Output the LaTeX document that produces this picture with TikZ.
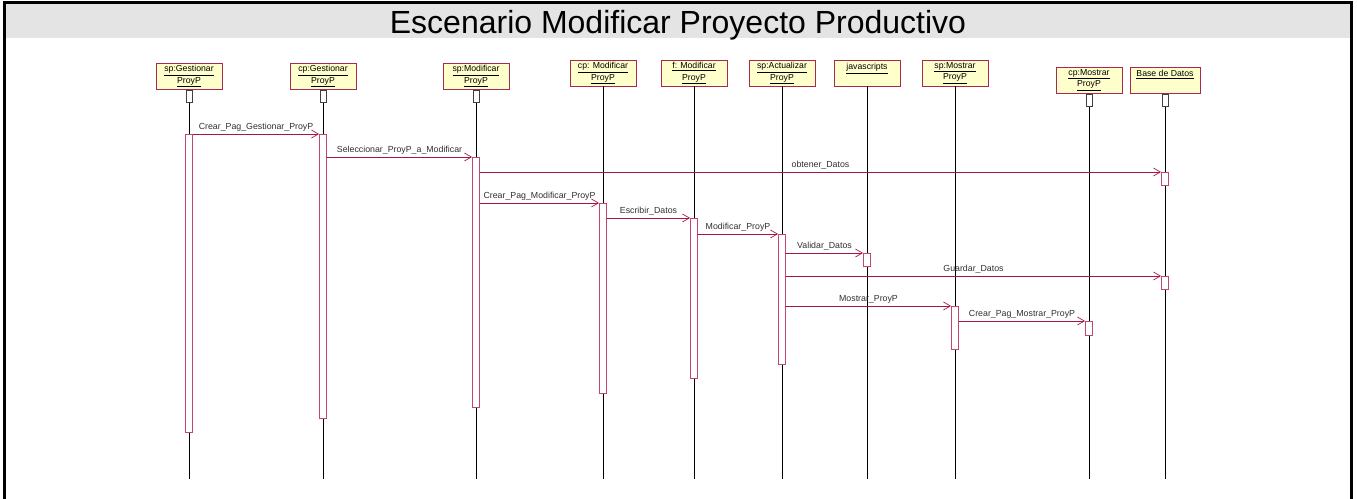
\documentclass[tikz,border=0pt]{standalone}
\usepackage{fontspec}
\setmainfont{Liberation Sans}
\usetikzlibrary{positioning,arrows.meta}
\definecolor{boxfill}{HTML}{FFFFCC}
\definecolor{boxline}{HTML}{A8284F}
\definecolor{msgline}{HTML}{A3154B}
\definecolor{actline}{HTML}{C2476E}
\definecolor{band}{HTML}{E4E4E4}
\definecolor{lbltext}{HTML}{303030}
\tikzset{
  obj/.style={draw=boxline,fill=boxfill,line width=0.8pt,minimum width=66,minimum height=26,inner sep=1pt,align=center,font=\fontsize{8.7}{11.5}\selectfont},
  head/.style={draw=black!75,fill=white,line width=0.6pt,minimum width=6,minimum height=12,inner sep=0pt},
  act/.style={draw=actline,fill=white,line width=0.8pt,minimum width=7,inner sep=0pt,anchor=north},
  life/.style={black,line width=0.6pt},
  msg/.style={msgline,line width=0.7pt,-{Straight Barb[length=7pt,width=8pt]}},
  lbl/.style={above,inner sep=2pt,text=lbltext,font=\fontsize{8.8}{10}\selectfont}
}
\begin{document}
\begin{tikzpicture}[x=1pt,y=-1pt]
\useasboundingbox (0,0) rectangle (1357,498);
\fill[band] (4.5,2) rectangle (1351.5,38);
\draw[line width=3pt] (4.5,2) rectangle (1351.5,505);
\node[anchor=base,font=\fontsize{32}{36}\selectfont](TT) at (678,33){Escenario Modificar Proyecto Productivo};
\coordinate (END) at (0,479);

\node[obj](OB1) at (189,76){\underline{sp:Gestionar}\\\underline{ProyP}};
\node[obj](OB2) at (323,76){\underline{cp:Gestionar}\\\underline{ProyP}};
\node[obj](OB3) at (476,76){\underline{sp:Modificar}\\\underline{ProyP}};
\node[obj](OB4) at (603,73){\underline{cp: Modificar}\\\underline{ProyP}};
\node[obj](OB5) at (694,73){\underline{f: Modificar}\\\underline{ProyP}};
\node[obj](OB6) at (782,73){\underline{sp:Actualizar}\\\underline{ProyP}};
\node[obj](OB7) at (867,73){\underline{javascripts}\\\phantom{ProyP}};
\node[obj](OB8) at (955,73){\underline{sp:Mostrar}\\\underline{ProyP}};
\node[obj](OB9) at (1089,80){\underline{cp:Mostrar}\\\underline{ProyP}};
\node[obj,minimum width=70](OB10) at (1165,80){\underline{Base de Datos}\\\phantom{ProyP}};

\node[head,below=1pt of OB1](HD1){};
\node[head,below=1pt of OB2](HD2){};
\node[head,below=1pt of OB3](HD3){};
\node[head,below=1pt of OB9](HD9){};
\node[head,below=1pt of OB10](HD10){};

\draw[life] (HD1.south) -- (HD1.south |- END);
\draw[life] (HD2.south) -- (HD2.south |- END);
\draw[life] (HD3.south) -- (HD3.south |- END);
\draw[life] (OB4.south) -- (OB4.south |- END);
\draw[life] (OB5.south) -- (OB5.south |- END);
\draw[life] (OB6.south) -- (OB6.south |- END);
\draw[life] (OB7.south) -- (OB7.south |- END);
\draw[life] (OB8.south) -- (OB8.south |- END);
\draw[life] (HD9.south) -- (HD9.south |- END);
\draw[life] (HD10.south) -- (HD10.south |- END);

\node[act,minimum height=298](AC1) at (189,134){};
\node[act,minimum height=284](AC2) at (323,134){};
\node[act,minimum height=250](AC3) at (476,157){};
\node[act,minimum height=190](AC4) at (603,203){};
\node[act,minimum height=160](AC5) at (694,218){};
\node[act,minimum height=130](AC6) at (782,234){};
\node[act,minimum height=13](AC7) at (867,253){};
\node[act,minimum height=13](AC8) at (1165,172){};
\node[act,minimum height=13](AC9) at (1165,276){};
\node[act,minimum height=43](AC10) at (955,306){};
\node[act,minimum height=14](AC11) at (1089,321){};

\draw[msg] (AC1.north east) -- node[lbl]{Crear\_Pag\_Gestionar\_ProyP} (AC2.north west);
\draw[msg] (AC2.east |- AC3.north) -- node[lbl]{Seleccionar\_ProyP\_a\_Modificar} (AC3.north west);
\draw[msg] (AC3.east |- AC8.north) -- node[lbl]{obtener\_Datos} (AC8.north west);
\draw[msg] (AC3.east |- AC4.north) -- node[lbl]{Crear\_Pag\_Modificar\_ProyP} (AC4.north west);
\draw[msg] (AC4.east |- AC5.north) -- node[lbl]{Escribir\_Datos} (AC5.north west);
\draw[msg] (AC5.east |- AC6.north) -- node[lbl]{Modificar\_ProyP} (AC6.north west);
\draw[msg] (AC6.east |- AC7.north) -- node[lbl]{Validar\_Datos} (AC7.north west);
\draw[msg] (AC6.east |- AC9.north) -- node[lbl]{Guardar\_Datos} (AC9.north west);
\draw[msg] (AC6.east |- AC10.north) -- node[lbl]{Mostrar\_ProyP} (AC10.north west);
\draw[msg] (AC10.east |- AC11.north) -- node[lbl]{Crear\_Pag\_Mostrar\_ProyP} (AC11.north west);
\end{tikzpicture}
\end{document}
